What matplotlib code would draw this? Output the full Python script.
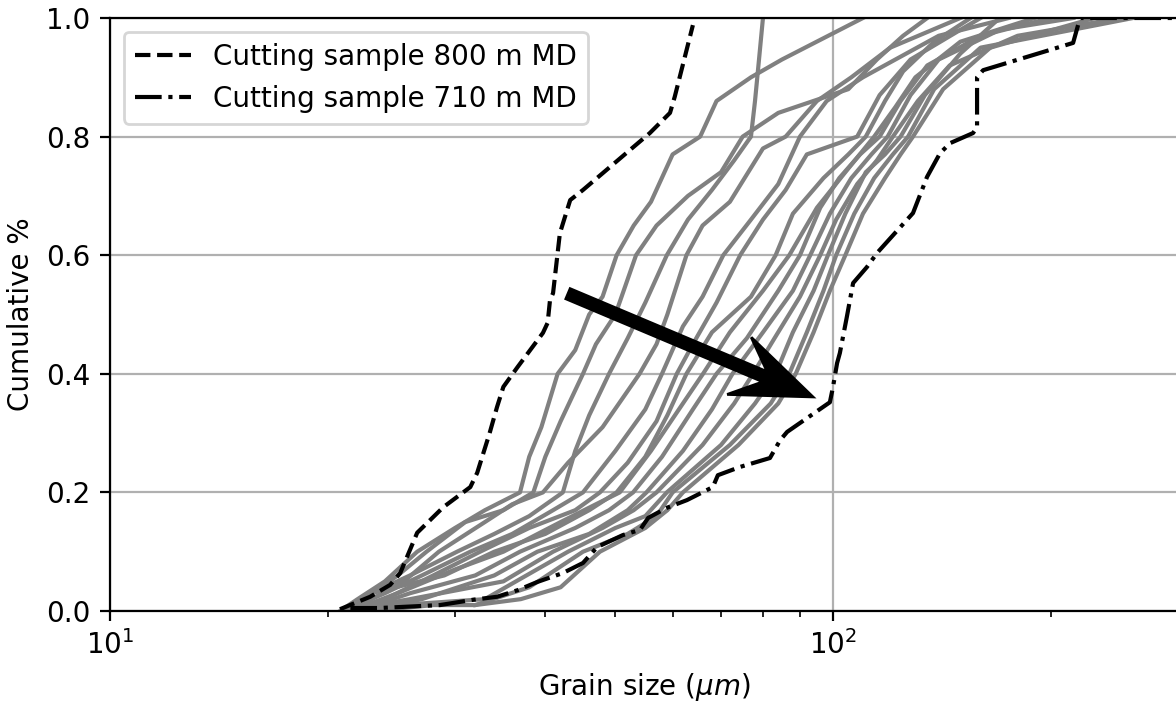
import matplotlib
matplotlib.use("Agg")
import matplotlib.pyplot as plt
import matplotlib.patches as mpatches

# Cutting samples (grain size in um, cumulative fraction)
md800_size = [20.8, 22.9, 24.4, 25.2, 26.6, 27.7, 28.9, 31.5, 32.2, 33.5, 34.3, 35.0,
              36.6, 39.7, 40.3, 40.6, 41.0, 41.9, 43.3, 45.1, 55.8, 59.5, 60.4, 64.0]
md800_cum = [0.003, 0.024, 0.044, 0.064, 0.132, 0.153, 0.175, 0.209, 0.233, 0.300, 0.344, 0.378,
             0.411, 0.469, 0.486, 0.524, 0.536, 0.637, 0.693, 0.710, 0.806, 0.840, 0.867, 0.988]

md710_size = [21.5, 23.6, 28.6, 31.8, 34.3, 36.6, 39.0, 42.3, 45.1, 47.2, 51.2, 54.1, 55.5,
              58.9, 62.8, 68.2, 69.3, 74.4, 81.8, 84.5, 86.4, 99.0, 100.0, 101.3, 102.2, 104.5,
              106.6, 111.4, 115.1, 129.0, 134.9, 140.6, 145.2, 156.2, 158.2, 158.2, 161.3,
              214.8, 219.6, 300.0]
md710_cum = [0.005, 0.005, 0.010, 0.019, 0.024, 0.035, 0.049, 0.064, 0.081, 0.108, 0.128, 0.137, 0.157,
             0.174, 0.187, 0.209, 0.229, 0.243, 0.258, 0.288, 0.302, 0.352, 0.378, 0.418, 0.435, 0.496,
             0.553, 0.580, 0.604, 0.671, 0.732, 0.772, 0.789, 0.806, 0.816, 0.900, 0.912,
             0.958, 1.0, 1.0]

# other samples (grey)
samples = [
    ([20.8, 22, 24, 26.6, 30, 33, 36.9, 38, 39.5, 41.6, 44, 46, 48, 50.2, 53, 56, 60, 65.5, 69, 77, 85, 106, 110],
     [0.0, 0.02, 0.05, 0.1, 0.14, 0.17, 0.2, 0.26, 0.31, 0.4, 0.44, 0.5, 0.53, 0.6, 0.65, 0.69, 0.77, 0.8, 0.86, 0.9, 0.93, 0.99, 1.0]),
    ([21, 23, 26, 30.2, 34, 38, 42.3, 44, 46, 49, 52, 55, 58.9, 63, 68, 73, 77, 78, 79, 80],
     [0.0, 0.03, 0.06, 0.1, 0.13, 0.16, 0.2, 0.27, 0.33, 0.4, 0.46, 0.52, 0.6, 0.66, 0.71, 0.76, 0.8, 0.86, 0.93, 1.0]),
    ([21, 22.5, 25, 27.4, 31, 35, 38.5, 40, 42, 45.1, 47, 50, 53.4, 57, 63, 70, 75, 84, 105, 115, 125, 135],
     [0.0, 0.02, 0.06, 0.1, 0.15, 0.17, 0.2, 0.26, 0.32, 0.4, 0.45, 0.5, 0.6, 0.65, 0.7, 0.74, 0.8, 0.84, 0.88, 0.93, 0.97, 1.0]),
    ([21.5, 23, 25.5, 28.5, 33, 36, 39.7, 43, 48, 54, 57, 59, 62.7, 66, 72, 80, 86, 95, 106, 120, 150],
     [0.0, 0.02, 0.05, 0.1, 0.15, 0.18, 0.2, 0.25, 0.31, 0.4, 0.45, 0.5, 0.6, 0.65, 0.69, 0.78, 0.8, 0.86, 0.9, 0.95, 1.0]),
    ([21, 24, 27, 31.5, 36, 41, 45.1, 50, 55, 58, 62, 66, 70.5, 77, 84, 90, 98, 110, 140, 175],
     [0.0, 0.03, 0.06, 0.1, 0.13, 0.17, 0.2, 0.27, 0.34, 0.4, 0.48, 0.53, 0.6, 0.66, 0.72, 0.8, 0.86, 0.9, 0.97, 1.0]),
    ([22, 24, 28, 32.5, 38, 44, 47.6, 52, 57, 60.8, 64, 69, 74.4, 80, 86, 92, 108, 116, 128, 150, 160],
     [0.0, 0.02, 0.06, 0.1, 0.14, 0.17, 0.2, 0.25, 0.32, 0.4, 0.45, 0.52, 0.6, 0.66, 0.71, 0.77, 0.8, 0.87, 0.93, 0.98, 1.0]),
    ([21, 23, 29, 34, 40, 46, 50.2, 55, 59, 62.7, 68, 77, 83.3, 88, 97, 105, 111, 118, 125, 138, 155],
     [0.0, 0.03, 0.06, 0.1, 0.13, 0.17, 0.2, 0.26, 0.33, 0.4, 0.47, 0.53, 0.6, 0.67, 0.73, 0.77, 0.8, 0.86, 0.91, 0.96, 1.0]),
    ([21.5, 25, 30, 35, 42, 47, 50.7, 56, 62, 66.1, 72, 80, 87, 95, 104, 114, 122, 130, 150, 190],
     [0.0, 0.03, 0.07, 0.1, 0.15, 0.18, 0.2, 0.27, 0.35, 0.4, 0.47, 0.54, 0.6, 0.68, 0.74, 0.8, 0.85, 0.9, 0.96, 1.0]),
    ([22, 26, 32, 36.9, 44, 49, 52.9, 58, 64, 69, 76, 84, 90, 96, 102, 109, 116, 124, 135, 160, 200],
     [0.0, 0.03, 0.06, 0.1, 0.14, 0.17, 0.2, 0.26, 0.34, 0.4, 0.46, 0.54, 0.6, 0.68, 0.73, 0.77, 0.8, 0.86, 0.92, 0.97, 1.0]),
    ([22.5, 27, 34, 39, 46, 52, 55.2, 62, 68, 72.6, 80, 88, 93, 99, 106, 113, 119, 128, 140, 170, 215],
     [0.0, 0.02, 0.06, 0.1, 0.13, 0.17, 0.2, 0.27, 0.34, 0.4, 0.47, 0.54, 0.6, 0.67, 0.73, 0.77, 0.8, 0.87, 0.93, 0.98, 1.0]),
    ([21, 26, 35, 41, 48, 53, 57, 66, 73, 77.5, 83, 90, 96, 101, 108, 115, 121, 131, 145, 180, 250],
     [0.0, 0.02, 0.05, 0.1, 0.14, 0.17, 0.2, 0.28, 0.35, 0.4, 0.46, 0.53, 0.6, 0.66, 0.72, 0.76, 0.8, 0.86, 0.92, 0.97, 1.0]),
    ([22, 25, 33, 43, 50, 55, 58.9, 70, 78, 83.3, 88, 94, 98.4, 104, 111, 118, 124, 134, 150, 170],
     [0.0, 0.01, 0.02, 0.1, 0.14, 0.16, 0.2, 0.28, 0.35, 0.4, 0.47, 0.54, 0.6, 0.67, 0.74, 0.77, 0.8, 0.87, 0.94, 1.0]),
    ([23, 28, 32, 38, 45.1, 52, 57, 60, 72, 82, 87, 92, 97, 101, 107, 114, 121, 127, 138, 160, 260],
     [0.0, 0.01, 0.01, 0.04, 0.1, 0.13, 0.16, 0.2, 0.28, 0.35, 0.4, 0.47, 0.54, 0.6, 0.67, 0.73, 0.77, 0.8, 0.88, 0.95, 1.0]),
    ([32, 37, 42, 47.6, 55, 59, 62, 74, 84, 88.8, 94, 99, 104, 110, 118, 124, 129, 142, 165, 230],
     [0.01, 0.02, 0.04, 0.1, 0.14, 0.17, 0.2, 0.28, 0.35, 0.4, 0.47, 0.54, 0.6, 0.67, 0.73, 0.77, 0.8, 0.88, 0.95, 1.0]),
]

# arrow from / to (data coords)
arrow_start = (43.0, 0.535)
arrow_end = (93.8, 0.361)

fig = plt.figure(figsize=(5.88, 3.51), dpi=200)
# axes run just past the right edge of the picture
ax = fig.add_axes([110 / 1176, 91 / 702, 1068 / 1176, 593 / 702])

for size, cum in samples:
    ax.plot(size, cum, color='gray', lw=1.5, zorder=2)

ax.plot(md800_size, md800_cum, color='black', ls='--', lw=1.5, zorder=3,
        label='Cutting sample 800 m MD')
ax.plot(md710_size, md710_cum, color='black', ls='-.', lw=1.5, zorder=3,
        label='Cutting sample 710 m MD')

ax.set_xscale('log')
ax.set_xlim(10, 300)
ax.set_ylim(0, 1)
ax.grid(True, which='major')
ax.set_axisbelow(True)
ax.set_xlabel(r'Grain size ($\mu m$)')
ax.set_ylabel('Cumulative %')
ax.legend(loc='upper left')

# arrow drawn in inches so the head is not distorted by the log axis
p0 = ax.transData.transform(arrow_start) / fig.dpi
p1 = ax.transData.transform(arrow_end) / fig.dpi
arr = mpatches.FancyArrow(p0[0], p0[1], p1[0] - p0[0], p1[1] - p0[1],
                          width=0.055, head_width=0.31, head_length=0.40,
                          overhang=0.35, length_includes_head=True,
                          color='black', transform=fig.dpi_scale_trans, zorder=5)
fig.add_artist(arr)

fig.savefig('out.png', dpi=200)
